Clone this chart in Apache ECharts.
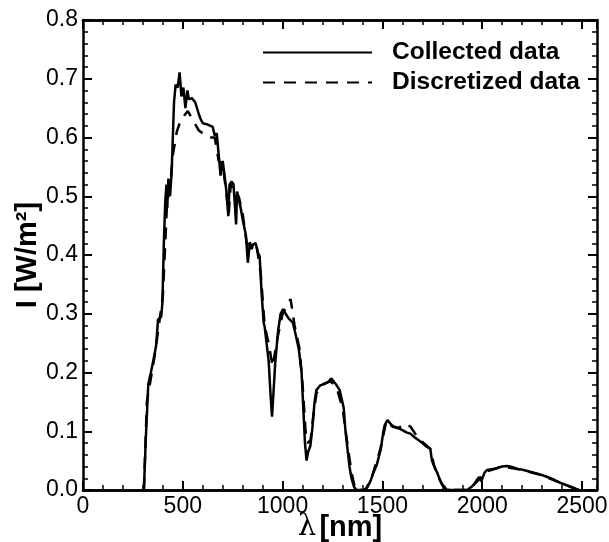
<!DOCTYPE html>
<html>
<head>
<meta charset="utf-8">
<script src="https://cdn.jsdelivr.net/npm/echarts@6/dist/echarts.min.js"></script>
<style>html,body{margin:0;padding:0;background:#fff}#c{width:609px;height:542px}</style>
</head>
<body>
<div id="c"></div>
<script>
// wavelength [nm], intensity [W/m2]
const collectedX = [305,315,327,340,352,366,376,392,398,405,412,418,422,428,436,444,450,456,464,474,484,493,503,513,523,530,545,562,580,591,601,625,650,660,670,680,689,700,709,718,728,734,745,754,760,767,772,777,790,800,816,826,836,845,852,865,875,885,895,905,910,920,930,940,947,955,963,977,990,1002,1015,1030,1051,1065,1081,1095,1105,1112,1120,1128,1139,1149,1160,1169,1188,1205,1218,1232,1243,1255,1267,1286,1296,1306,1315,1325,1335,1345,1358,1370,1410,1425,1440,1453,1472,1492,1505,1511,1525,1540,1555,1575,1600,1620,1640,1660,1680,1700,1720,1740,1748,1760,1776,1790,1805,1820,1840,1925,1945,1960,1975,1985,1995,2005,2012,2025,2040,2060,2080,2100,2120,2140,2160,2180,2207,2240,2285,2320,2363,2400,2440,2470,2485];
const collectedY = [0,0.09,0.18,0.2,0.22,0.245,0.29,0.295,0.32,0.42,0.49,0.52,0.48,0.53,0.5,0.54,0.6,0.66,0.69,0.685,0.711,0.67,0.685,0.65,0.68,0.665,0.667,0.66,0.64,0.63,0.624,0.622,0.618,0.603,0.607,0.57,0.535,0.56,0.557,0.51,0.466,0.52,0.525,0.52,0.49,0.452,0.508,0.505,0.48,0.46,0.434,0.387,0.422,0.41,0.418,0.42,0.405,0.398,0.334,0.285,0.278,0.28,0.22,0.16,0.125,0.17,0.216,0.27,0.3,0.308,0.3,0.292,0.285,0.265,0.24,0.2,0.13,0.08,0.05,0.065,0.075,0.105,0.15,0.17,0.178,0.18,0.182,0.185,0.19,0.185,0.18,0.17,0.155,0.14,0.1,0.07,0.04,0.02,0.005,0,0,0.005,0.015,0.028,0.043,0.07,0.1,0.11,0.119,0.113,0.108,0.106,0.102,0.098,0.096,0.09,0.085,0.08,0.074,0.07,0.05,0.04,0.028,0.015,0.007,0.001,0,0,0.005,0.01,0.018,0.022,0.015,0.018,0.03,0.034,0.035,0.036,0.038,0.04,0.041,0.04,0.038,0.036,0.034,0.031,0.027,0.023,0.017,0.011,0.006,0.002,0];
const discreteX = [305,320,340,360,380,400,420,440,450,470,490,525,550,580,630,660,680,700,720,730,740,760,780,800,820,840,870,890,910,930,950,975,1000,1040,1060,1085,1100,1115,1125,1140,1155,1170,1200,1240,1270,1300,1320,1345,1365,1415,1450,1490,1520,1550,1580,1610,1640,1680,1740,1760,1800,1830,1930,1990,2010,2100,2200,2300,2400,2480];
const discreteY = [0,0.15,0.19,0.23,0.28,0.33,0.48,0.53,0.57,0.61,0.63,0.645,0.63,0.612,0.6,0.6,0.56,0.555,0.5,0.47,0.52,0.5,0.5,0.47,0.42,0.415,0.415,0.37,0.28,0.25,0.21,0.26,0.3,0.325,0.28,0.24,0.18,0.1,0.08,0.085,0.13,0.165,0.18,0.185,0.175,0.14,0.09,0.03,0,0,0.025,0.07,0.118,0.108,0.105,0.113,0.108,0.088,0.07,0.04,0.008,0,0,0.02,0.03,0.04,0.034,0.025,0.011,0];
const seriesNames = ['Collected data', 'Discretized data'];
const xTicks = [0, 500, 1000, 1500, 2000, 2500];
const yTicks = [0.0, 0.1, 0.2, 0.3, 0.4, 0.5, 0.6, 0.7, 0.8];

const XMAX = 2575;
const pair = (xs, ys) => xs.map((x, i) => [x, ys[i]]);
const font = 'Liberation Sans, Arial, sans-serif';
const black = '#000';
const axisLine = {show: true, onZero: false, lineStyle: {color: black, width: 2.5}};

function xAx(position, interval, len, showLabel) {
  return {
    type: 'value', position, min: 0, max: XMAX, interval,
    axisLine, splitLine: {show: false},
    axisTick: {show: true, inside: true, length: len, lineStyle: {color: black, width: len > 6 ? 2 : 1.5}},
    axisLabel: showLabel ? {
      show: true, margin: 5, fontFamily: font, fontSize: 23, color: black,
      showMaxLabel: false,
      formatter: v => (xTicks.indexOf(v) >= 0 ? String(v) : '')
    } : {show: false}
  };
}

function yAx(position, showLabel) {
  return {
    type: 'value', position, min: 0, max: 0.8, interval: 0.1,
    axisLine, splitLine: {show: false},
    axisTick: {show: true, inside: true, length: 9, lineStyle: {color: black, width: 2}},
    minorTick: {show: true, splitNumber: 5, length: 5, lineStyle: {color: black, width: 1.5}},
    axisLabel: showLabel ? {margin: 5, fontFamily: font, fontSize: 23, color: black,
      formatter: v => v.toFixed(1)} : {show: false}
  };
}

const chart = echarts.init(document.getElementById('c'), null, {renderer: 'canvas'});
chart.setOption({
  animation: false,
  backgroundColor: '#fff',
  grid: {left: 83, right: 12, top: 20, bottom: 52, containLabel: false, outerBoundsMode: 'none'},
  legend: {
    orient: 'vertical', left: 257, top: 35,
    itemWidth: 109, itemHeight: 14, itemGap: 5,
    itemStyle: {color: 'rgba(0,0,0,0)', borderWidth: 0, opacity: 0},
    textStyle: {fontFamily: font, fontSize: 24.5, fontWeight: 'bold', color: black, padding: [0, 0, 0, 15]},
    data: seriesNames
  },
  xAxis: [
    Object.assign(xAx('bottom', 500, 9, true), {
      name: '{l|λ} {b|[nm]}', nameLocation: 'middle', nameGap: 23, nameMoveOverlap: false,
      nameTextStyle: {rich: {
        l: {fontFamily: 'DejaVu Serif, serif', fontSize: 29, color: black},
        b: {fontFamily: font, fontSize: 29, fontWeight: 'bold', color: black}
      }}
    }),
    xAx('bottom', 100, 5, false),
    xAx('top', 500, 9, false),
    xAx('top', 100, 5, false)
  ],
  yAxis: [
    Object.assign(yAx('left', true), {
      name: 'I [W/m²]', nameLocation: 'middle', nameGap: 41, nameRotate: 90, nameMoveOverlap: false,
      nameTextStyle: {fontFamily: font, fontSize: 29, fontWeight: 'bold', color: black}
    }),
    yAx('right', false)
  ],
  series: [
    {
      name: seriesNames[0], type: 'line', xAxisIndex: 0, yAxisIndex: 0,
      data: pair(collectedX, collectedY), symbol: 'none', showSymbol: false,
      lineStyle: {color: black, width: 2.5, type: 'solid'}, itemStyle: {color: black}, z: 3
    },
    {
      name: seriesNames[1], type: 'line', xAxisIndex: 0, yAxisIndex: 0,
      data: pair(discreteX, discreteY), symbol: 'none', showSymbol: false,
      lineStyle: {color: black, width: 2.5, type: [12, 9]}, itemStyle: {color: black}, z: 2
    }
  ]
});
</script>
</body>
</html>
